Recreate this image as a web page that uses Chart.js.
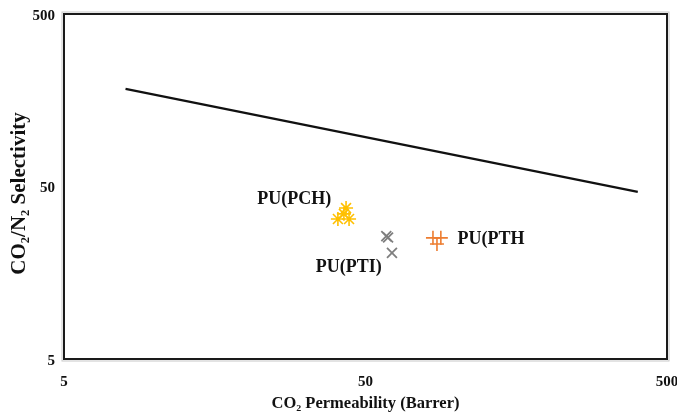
<!DOCTYPE html>
<html>
<head>
<meta charset="utf-8">
<script src="https://cdn.jsdelivr.net/npm/chart.js@4.4.1/dist/chart.umd.min.js"></script>
<style>
  html, body { margin: 0; padding: 0; background: #fff; }
  #wrap { width: 677px; height: 414px; }
</style>
</head>
<body>
<div id="wrap"><canvas id="c" width="677" height="414"></canvas></div>
<script>
// Tick values for both log axes
const axisTicks = [5, 50, 500];

// Upper-bound trade-off line (CO2 permeability, selectivity)
const boundPermeability = [8, 400];
const boundSelectivity = [184, 46.5];

// PU(PCH) membranes
const pchPermeability = [43.1, 40.5, 44.1, 42.4];
const pchSelectivity = [37.5, 32.4, 32.4, 34.7];

// PU(PTI) membranes
const ptiPermeability = [58.6, 59.4, 61.2];
const ptiSelectivity = [25.8, 25.3, 20.6];

// PU(PTH) membranes
const pthPermeability = [83.7, 88.9, 86.3];
const pthSelectivity = [25.2, 25.2, 23.2];

// Series names written next to each cluster
const seriesNames = ['PU(PCH)', 'PU(PTI)', 'PU(PTH'];

// Axis titles
const xTitle = 'CO₂ Permeability (Barrer)';
const yTitle = 'CO₂/N₂ Selectivity';

const toPoints = (xs, ys) => xs.map((x, i) => ({ x: x, y: ys[i] }));

const serif = "'Liberation Serif', 'Times New Roman', serif";

// Where each series name sits, in data units
const nameAnchors = [
  { x: 38.5, y: 42, align: 'right' },
  { x: 44, y: 16.9, align: 'center' },
  { x: 101, y: 24.6, align: 'left' }
];

const framePlugin = {
  id: 'frame',
  afterDraw(chart) {
    const { ctx, chartArea: a } = chart;
    ctx.save();
    ctx.strokeStyle = 'rgba(0,0,0,0.22)';
    ctx.lineWidth = 1;
    ctx.strokeRect(a.left - 2, a.top - 2, a.right - a.left + 4, a.bottom - a.top + 4);
    ctx.strokeStyle = '#1a1a1a';
    ctx.lineWidth = 2;
    ctx.strokeRect(a.left, a.top, a.right - a.left, a.bottom - a.top);
    ctx.restore();
  }
};

// Vertical title for the selectivity axis, set slightly below the plot's middle
const yTitlePlugin = {
  id: 'yTitle',
  afterDraw(chart) {
    const { ctx, chartArea: a } = chart;
    ctx.save();
    ctx.translate(20, (a.top + a.bottom) / 2 + 7);
    ctx.rotate(-Math.PI / 2);
    ctx.fillStyle = '#111';
    ctx.font = 'bold 21px ' + serif;
    ctx.textAlign = 'center';
    ctx.textBaseline = 'middle';
    ctx.fillText(yTitle, 0, 0);
    ctx.restore();
  }
};

const namesPlugin = {
  id: 'seriesNames',
  afterDatasetsDraw(chart) {
    const { ctx, scales } = chart;
    ctx.save();
    ctx.fillStyle = '#111';
    ctx.font = 'bold 18px ' + serif;
    ctx.textBaseline = 'middle';
    seriesNames.forEach((name, i) => {
      const a = nameAnchors[i];
      ctx.textAlign = a.align;
      ctx.fillText(name, scales.x.getPixelForValue(a.x), scales.y.getPixelForValue(a.y));
    });
    ctx.restore();
  }
};

new Chart(document.getElementById('c'), {
  type: 'scatter',
  data: {
    datasets: [
      {
        type: 'line',
        data: toPoints(boundPermeability, boundSelectivity),
        borderColor: '#111',
        borderWidth: 2.2,
        pointRadius: 0,
        fill: false
      },
      {
        data: toPoints(pchPermeability, pchSelectivity),
        pointStyle: 'star',
        pointRadius: 7,
        borderColor: '#FFC000',
        backgroundColor: '#FFC000',
        borderWidth: 1.6
      },
      {
        data: toPoints(ptiPermeability, ptiSelectivity),
        pointStyle: 'crossRot',
        pointRadius: 7,
        borderColor: '#7F7F7F',
        backgroundColor: '#7F7F7F',
        borderWidth: 1.8
      },
      {
        data: toPoints(pthPermeability, pthSelectivity),
        pointStyle: 'cross',
        pointRadius: 7,
        borderColor: '#ED7D31',
        backgroundColor: '#ED7D31',
        borderWidth: 1.6
      }
    ]
  },
  options: {
    responsive: false,
    animation: false,
    layout: { padding: { left: 0, top: 14, right: 10, bottom: 0 } },
    plugins: {
      legend: { display: false },
      tooltip: { enabled: false }
    },
    scales: {
      x: {
        type: 'logarithmic',
        min: 5,
        max: 500,
        grid: { display: false, drawTicks: false },
        border: { display: false },
        afterBuildTicks: s => { s.ticks = axisTicks.map(v => ({ value: v })); },
        afterFit: s => { s.height = 55; s.paddingLeft = 0; s.paddingRight = 0; },
        ticks: {
          color: '#111',
          padding: 14,
          maxRotation: 0,
          autoSkip: false,
          font: { family: serif, size: 15, weight: 'bold' },
          callback: v => String(v)
        },
        title: {
          display: true,
          text: xTitle,
          color: '#111',
          padding: { top: 0, bottom: 0 },
          font: { family: serif, size: 16.5, weight: 'bold' }
        }
      },
      y: {
        type: 'logarithmic',
        min: 5,
        max: 500,
        grid: { display: false, drawTicks: false },
        border: { display: false },
        afterBuildTicks: s => { s.ticks = axisTicks.map(v => ({ value: v })); },
        afterFit: s => { s.width = 64; s.paddingTop = 0; s.paddingBottom = 0; },
        ticks: {
          color: '#111',
          padding: 9,
          labelOffset: 2,
          autoSkip: false,
          font: { family: serif, size: 15, weight: 'bold' },
          callback: v => String(v)
        },
        title: { display: false }
      }
    }
  },
  plugins: [framePlugin, yTitlePlugin, namesPlugin]
});
</script>
</body>
</html>
